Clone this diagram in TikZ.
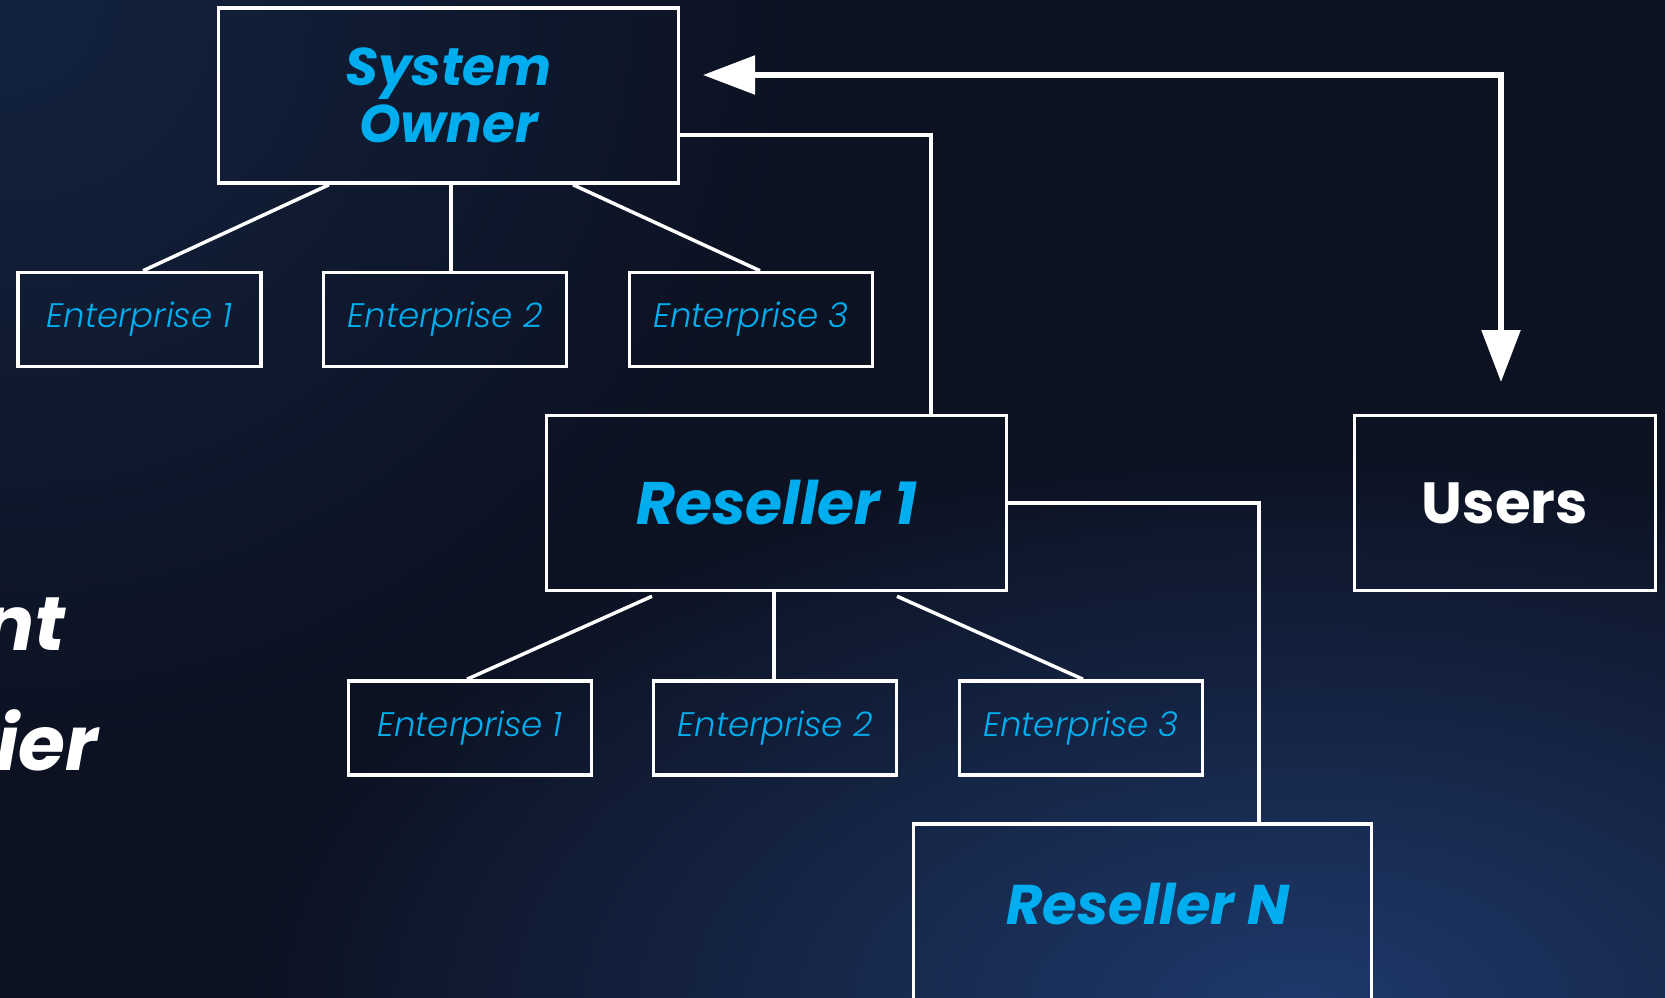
\documentclass[tikz,border=0pt]{standalone}
\usepackage{fontspec}
\setmainfont{Poppins}
\newfontfamily\entfont{Poppins Light Italic}
\usetikzlibrary{arrows.meta}
\definecolor{bg}{HTML}{0C1222}
\definecolor{glowA}{HTML}{13233F}
\definecolor{glowB}{HTML}{1F396B}
\definecolor{txtblue}{RGB}{0,174,239}
\pgfdeclareradialshading{glowtl}{\pgfpoint{0bp}{0bp}}{color(0bp)=(glowA); color(25bp)=(bg); color(50bp)=(bg)}
\pgfdeclareradialshading{glowbr}{\pgfpoint{0bp}{0bp}}{color(0bp)=(glowB); color(25bp)=(bg); color(50bp)=(bg)}
\tikzset{
  box/.style={draw=white, line width=3.5pt, inner sep=0pt, rectangle},
  bigbox/.style={box, minimum width=460pt, minimum height=175pt},
  entbox/.style={box, minimum width=243pt, minimum height=94pt,
    font=\entfont\fontsize{34}{38}\selectfont, text=txtblue},
  bluebold/.style={font=\bfseries\itshape\fontsize{60}{64}\selectfont, text=txtblue},
  conn/.style={draw=white, line width=3.5pt},
  bigarrow/.style={draw=white, line width=5.5pt,
    {Triangle[length=52pt,width=38pt]}-{Triangle[length=52pt,width=38pt]}},
  bigtitle/.style={font=\bfseries\itshape\fontsize{76}{80}\selectfont, text=white, inner sep=0pt}
}
\begin{document}
\begin{tikzpicture}[x=1pt,y=-1pt]
\useasboundingbox (0,0) rectangle (1665,997);
% background
\fill[bg] (-10,-10) rectangle (1675,1007);
\begin{scope}
\clip (-10,-10) rectangle (1675,1007);
\shade[shading=glowtl] (0,0) ellipse [x radius=800pt, y radius=750pt];
\shade[shading=glowbr] (1300,1010) ellipse [x radius=1050pt, y radius=560pt];
\end{scope}

% partial title at left
\node[bigtitle, anchor=base east] (tt1) at (66,650) {nt};
\node[bigtitle, anchor=base east] (tt2) at (98,770) {ier};

% main boxes
\node[bigbox, bluebold, align=center, font=\bfseries\itshape\fontsize{53}{57}\selectfont] (so) at (448.5,95.5) {System\\Owner};
\node[bigbox, bluebold] (r1) at (776.5,503) {Reseller 1};
\node[box, minimum width=301pt, minimum height=175pt, text=white,
      font=\bfseries\fontsize{58}{62}\selectfont] (us) at (1505,503) {Users};
\node[box, minimum width=458pt, minimum height=280pt, anchor=north] (rn) at (1142.5,822) {};
\node[bluebold, font=\bfseries\itshape\fontsize{56}{60}\selectfont, inner sep=0pt] (rnl) at (1148,904) {Reseller N};

% enterprise row 1
\node[entbox] (e11) at (139.5,319.5) {Enterprise 1};
\node[entbox] (e12) at (445,319.5) {Enterprise 2};
\node[entbox] (e13) at (751,319.5) {Enterprise 3};
% enterprise row 2
\node[entbox] (e21) at (470,728) {Enterprise 1};
\node[entbox] (e22) at (775,728) {Enterprise 2};
\node[entbox] (e23) at (1081,728) {Enterprise 3};

% connectors system owner
\draw[conn] ([xshift=-119.5pt]so.south) -- ([xshift=3.5pt]e11.north);
\draw[conn] ([xshift=2.5pt]so.south) -- ([xshift=2.5pt]so.south |- e12.north);
\draw[conn] ([xshift=124.5pt]so.south) -- ([xshift=9pt]e13.north);
% connectors reseller 1
\draw[conn] ([xshift=-124.5pt,yshift=-4pt]r1.south) -- ([xshift=-3pt]e21.north);
\draw[conn] ([xshift=-2.5pt]r1.south) -- ([xshift=-2.5pt]r1.south |- e22.north);
\draw[conn] ([xshift=120.5pt,yshift=-4pt]r1.south) -- ([xshift=2pt]e23.north);
% hierarchy links
\draw[conn] ([yshift=-39.5pt]so.east) -| ([xshift=154.5pt]r1.north);
\draw[conn] (r1.east) -| ([xshift=116.5pt]rn.north);

% users arrow
\coordinate (aL) at (703,75);
\coordinate (aC) at (1501,75);
\coordinate (aB) at (1501,382);
\draw[bigarrow] (aL) -- (aC) -- (aB);
\end{tikzpicture}
\end{document}
